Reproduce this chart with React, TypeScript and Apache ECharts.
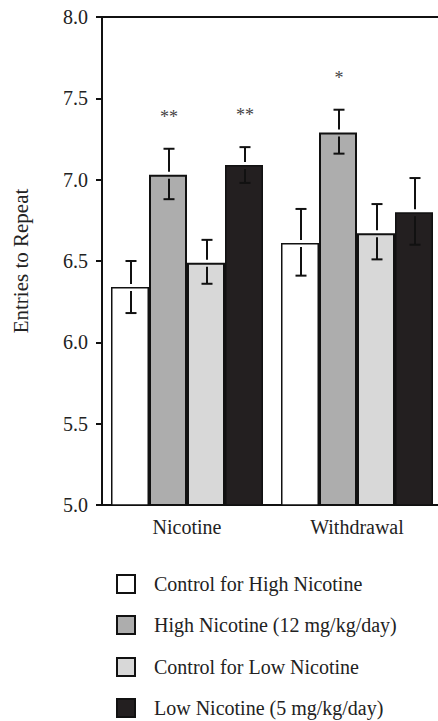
import React, { useEffect, useRef } from "react";
import * as echarts from "echarts";

const categories = ["Nicotine", "Withdrawal"];
const seriesNames = [
  "Control for High Nicotine",
  "High Nicotine (12 mg/kg/day)",
  "Control for Low Nicotine",
  "Low Nicotine (5 mg/kg/day)",
];
const means = [
  [6.34, 6.61],
  [7.03, 7.29],
  [6.49, 6.67],
  [7.09, 6.8],
];
const upper = [
  [6.5, 6.82],
  [7.19, 7.43],
  [6.63, 6.85],
  [7.2, 7.01],
];
const lower = [
  [6.18, 6.41],
  [6.88, 7.16],
  [6.36, 6.51],
  [6.98, 6.6],
];
const significance = [
  ["", ""],
  ["**", "*"],
  ["", ""],
  ["**", ""],
];
const yTicks = ["5.0", "5.5", "6.0", "6.5", "7.0", "7.5", "8.0"];

const fills = ["#ffffff", "#adadad", "#d8d8d8", "#231f20"];
const FONT = "Liberation Serif";
const BAR_W = 38;
const LEGEND_TOPS = [574, 615, 657, 698];

export default function App() {
  const ref = useRef<HTMLDivElement>(null);
  useEffect(() => {
    if (!ref.current) return;
    const chart = echarts.init(ref.current, null, { renderer: "svg" });
    const barSeries = seriesNames.map((name, i) => ({
      name,
      type: "bar",
      data: means[i],
      barWidth: BAR_W,
      barGap: "0%",
      itemStyle: {
        color: fills[i],
        borderColor: "#111",
        borderWidth: i === 1 || i === 2 ? 2 : 1.5,
      },
      z: 2,
    }));
    const errSeries = seriesNames.map((_, i) => ({
      type: "custom",
      z: 5,
      silent: true,
      data: categories.map((_, c) => [c, means[i][c], upper[i][c], lower[i][c]]),
      renderItem: (params: any, api: any) => {
        const c = api.value(0);
        const top = api.coord([c, api.value(1)]);
        const hi = api.coord([c, api.value(2)]);
        const lo = api.coord([c, api.value(3)]);
        const x = top[0] + (i - 1.5) * BAR_W + 1;
        const cap = 5.5;
        const style = { stroke: "#111", lineWidth: 2 };
        const sig = significance[i][c];
        const children: any[] = [
          { type: "line", shape: { x1: x, y1: hi[1], x2: x, y2: top[1] - 3 }, style },
          { type: "line", shape: { x1: x - cap, y1: hi[1], x2: x + cap, y2: hi[1] }, style },
          { type: "line", shape: { x1: x, y1: top[1] + 4, x2: x, y2: lo[1] }, style },
          { type: "line", shape: { x1: x - cap, y1: lo[1], x2: x + cap, y2: lo[1] }, style },
        ];
        if (sig) {
          children.push({
            type: "text",
            style: {
              text: sig,
              x,
              y: hi[1] - 32,
              align: "center",
              verticalAlign: "middle",
              fill: "#444",
              fontFamily: FONT,
              fontSize: 18,
            },
          });
        }
        return { type: "group", children };
      },
    }));
    chart.setOption({
      animation: false,
      textStyle: { fontFamily: FONT },
      grid: {
        left: 102,
        top: 17,
        bottom: 216,
        right: 8,
        show: true,
        borderColor: "#111",
        borderWidth: 2,
        backgroundColor: "transparent",
      },
      legend: seriesNames.map((name, i) => ({
        data: [name],
        orient: "vertical",
        left: 116,
        top: LEGEND_TOPS[i],
        padding: 0,
        itemWidth: 18,
        itemHeight: 18,
        icon: "rect",
        selectedMode: false,
        textStyle: {
          fontFamily: FONT,
          fontSize: 20,
          color: "#222",
          padding: [0, 0, 0, 14],
        },
      })),
      xAxis: {
        type: "category",
        data: categories,
        axisLine: { lineStyle: { color: "#111", width: 2 } },
        axisTick: { alignWithLabel: true, length: 8, lineStyle: { color: "#111", width: 2 } },
        axisLabel: { fontFamily: FONT, fontSize: 20, color: "#222", margin: 12 },
      },
      yAxis: {
        type: "value",
        min: 5,
        max: 8,
        interval: 0.5,
        name: "Entries to Repeat",
        nameLocation: "middle",
        nameGap: 71,
        nameTextStyle: { fontFamily: FONT, fontSize: 21, color: "#222" },
        splitLine: { show: false },
        axisLine: { show: true, lineStyle: { color: "#111", width: 2 } },
        axisTick: { show: true, length: 6, lineStyle: { color: "#111", width: 2 } },
        axisLabel: {
          fontFamily: FONT,
          fontSize: 20,
          color: "#222",
          margin: 14,
          formatter: (v: number) => yTicks[Math.round((v - 5) / 0.5)] ?? "",
        },
      },
      series: [...barSeries, ...errSeries],
    });
    return () => chart.dispose();
  }, []);
  return (
    <div
      style={{
        position: "absolute",
        left: 0,
        top: 0,
        width: 438,
        height: 721,
        overflow: "hidden",
      }}
    >
      <div ref={ref} style={{ width: 450, height: 721 }} />
    </div>
  );
}
